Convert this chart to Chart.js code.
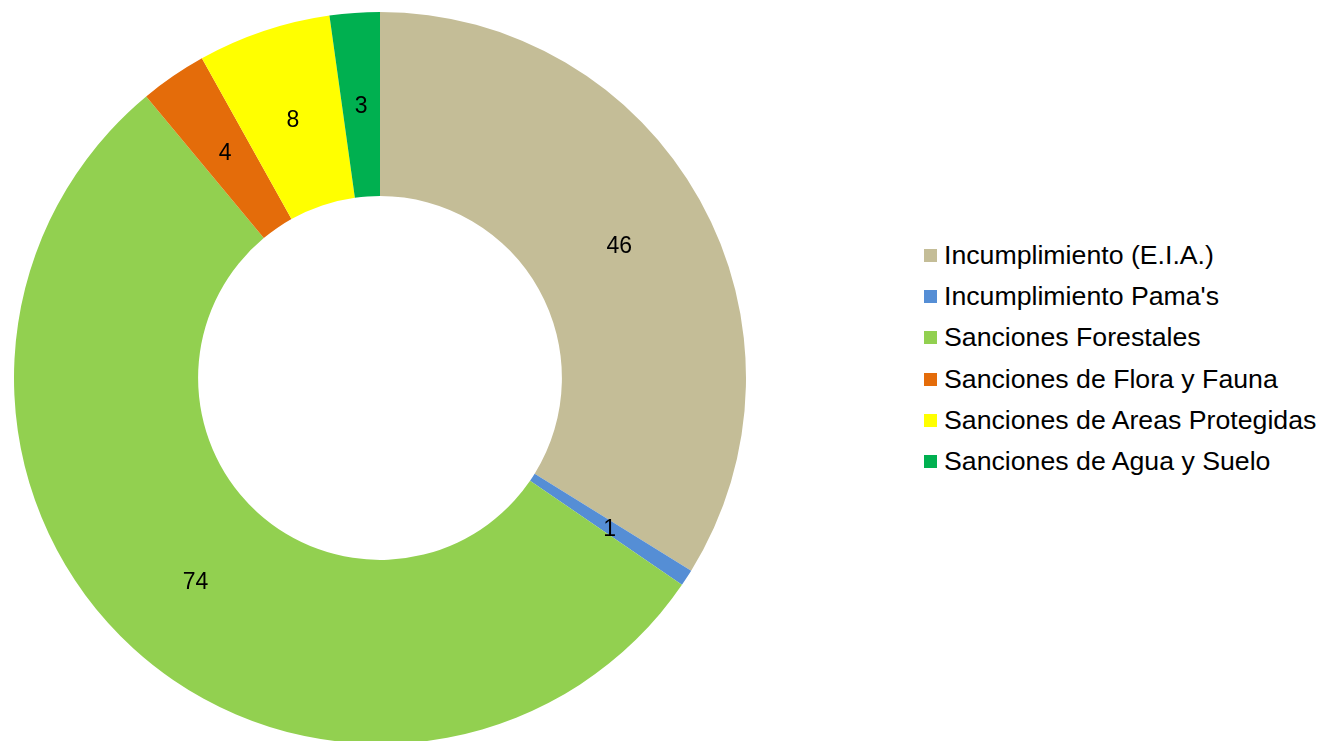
<!DOCTYPE html>
<html>
<head>
<meta charset="utf-8">
<script src="https://cdn.jsdelivr.net/npm/chart.js@4/dist/chart.umd.min.js"></script>
<style>
  html, body { margin: 0; padding: 0; background: #fff; overflow: hidden; }
  #wrap { position: absolute; left: 0; top: 0; width: 760px; height: 760px; }
  #legend { position: absolute; left: 924px; top: 235px; font-family: "Liberation Sans", Arial, sans-serif; font-size: 26.7px; color: #000; }
  #legend div { height: 41.2px; display: flex; align-items: center; white-space: nowrap; }
  #legend span.box { display: inline-block; width: 13px; height: 13px; margin-right: 7px; }
</style>
</head>
<body>
<div id="wrap"><canvas id="donut"></canvas></div>
<div id="legend"></div>
<script>
const categories = ['Incumplimiento (E.I.A.)', "Incumplimiento Pama's", 'Sanciones Forestales', 'Sanciones de Flora y Fauna', 'Sanciones de Areas Protegidas', 'Sanciones de Agua y Suelo'];
const values = [46, 1, 74, 4, 8, 3];
const colors = ['#C4BD97', '#558ED5', '#92D050', '#E46C0A', '#FFFF00', '#00B050'];

// labels in the middle of each ring segment
const sliceLabels = {
  id: 'sliceLabels',
  afterDatasetsDraw(chart) {
    const ctx = chart.ctx;
    const meta = chart.getDatasetMeta(0);
    ctx.save();
    ctx.font = '23px "Liberation Sans", Arial, sans-serif';
    ctx.fillStyle = '#000';
    ctx.textAlign = 'center';
    ctx.textBaseline = 'middle';
    meta.data.forEach((arc, i) => {
      const p = arc.tooltipPosition();
      ctx.fillText(String(values[i]), p.x, p.y + 2);
    });
    ctx.restore();
  }
};

new Chart(document.getElementById('donut'), {
  type: 'doughnut',
  data: {
    labels: categories,
    datasets: [{
      data: values,
      backgroundColor: colors,
      borderWidth: 0
    }]
  },
  options: {
    responsive: true,
    maintainAspectRatio: false,
    animation: false,
    cutout: '49.7%',
    layout: {
      padding: { left: 14, top: 12, right: 14, bottom: 16 }
    },
    plugins: {
      legend: { display: false },
      tooltip: { enabled: false }
    }
  },
  plugins: [sliceLabels]
});

const legend = document.getElementById('legend');
categories.forEach((name, i) => {
  const row = document.createElement('div');
  const box = document.createElement('span');
  box.className = 'box';
  box.style.background = colors[i];
  row.appendChild(box);
  row.appendChild(document.createTextNode(name));
  legend.appendChild(row);
});
</script>
</body>
</html>
